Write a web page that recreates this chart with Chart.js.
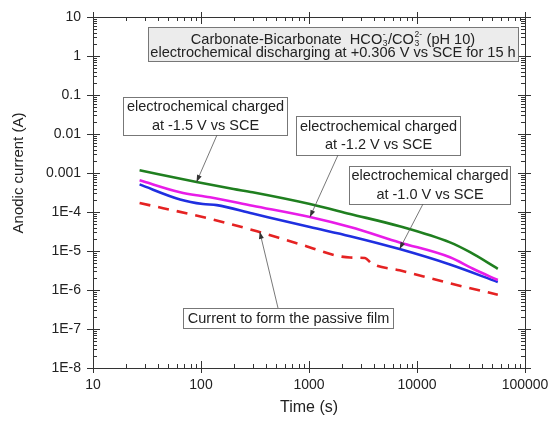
<!DOCTYPE html>
<html>
<head>
<meta charset="utf-8">
<script src="https://cdn.jsdelivr.net/npm/chart.js@4.4.0/dist/chart.umd.min.js"></script>
<style>
  html, body { margin: 0; padding: 0; background: #fff; }
</style>
</head>
<body>
<canvas id="chart" width="550" height="421"></canvas>
<script>
// Time (s) and anodic current (A)
const timeGreen = [27, 91, 200, 300, 1020, 2400, 6900, 20200, 31000, 56000];
const currGreen = [1.17e-3, 5.9e-4, 3.9e-4, 3.2e-4, 1.6e-4, 8.9e-5, 4.3e-5, 1.66e-5, 9.3e-6, 3.5e-6];

const timeMagenta = [27, 64, 98, 121, 300, 1020, 2400, 6900, 20200, 33000, 56000];
const currMagenta = [6.5e-4, 3.2e-4, 2.6e-4, 2.4e-4, 1.45e-4, 7.4e-5, 4.1e-5, 1.66e-5, 6.9e-6, 3.5e-6, 1.8e-6];

const timeBlue = [27, 64, 104, 140, 300, 1020, 2400, 6900, 20200, 56000];
const currBlue = [5.1e-4, 2.1e-4, 1.6e-4, 1.5e-4, 9.1e-5, 4.1e-5, 2.4e-5, 1.12e-5, 4.5e-6, 1.6e-6];

const timeRed = [27, 121, 330, 826, 2400, 3300, 3800, 6900, 20200, 56000];
const currRed = [1.7e-4, 6.7e-5, 3.2e-5, 1.5e-5, 6.8e-6, 6.6e-6, 4.8e-6, 3.2e-6, 1.48e-6, 7.6e-7];

const xTickValues = [10, 100, 1000, 10000, 100000];
const xTickLabels = ['10', '100', '1000', '10000', '100000'];
const yTickValues = [10, 1, 0.1, 0.01, 0.001, 1e-4, 1e-5, 1e-6, 1e-7, 1e-8];
const yTickLabels = ['10', '1', '0.1', '0.01', '0.001', '1E-4', '1E-5', '1E-6', '1E-7', '1E-8'];

// callouts: box in pixels, arrow tip at a (time, current) point
const callouts = [
  { lines: ['electrochemical charged', 'at -1.5 V vs SCE'], box: [123, 97, 164, 38], from: [217, 135], tip: [91, 5.9e-4] },
  { lines: ['electrochemical charged', 'at -1.2 V vs SCE'], box: [296, 116, 164, 39], from: [338, 155], tip: [1020, 7.4e-5] },
  { lines: ['electrochemical charged', 'at -1.0 V vs SCE'], box: [349, 166, 161, 38], from: [423, 204], tip: [6900, 1.12e-5] },
  { lines: ['Current to form the passive film'], box: [183, 308, 210, 20], from: [278, 308], tip: [350, 3.1e-5] }
];

const FONT = '"Liberation Sans", Arial, sans-serif';

function toPoints(ts, vs) {
  return ts.map((t, i) => ({ x: t, y: vs[i] }));
}

function drawArrow(ctx, x1, y1, x2, y2) {
  ctx.beginPath();
  ctx.moveTo(x1, y1);
  ctx.lineTo(x2, y2);
  ctx.stroke();
  const a = Math.atan2(y2 - y1, x2 - x1);
  const len = 7, w = 2.5;
  ctx.beginPath();
  ctx.moveTo(x2, y2);
  ctx.lineTo(x2 - len * Math.cos(a) + w * Math.sin(a), y2 - len * Math.sin(a) - w * Math.cos(a));
  ctx.lineTo(x2 - len * Math.cos(a) - w * Math.sin(a), y2 - len * Math.sin(a) + w * Math.cos(a));
  ctx.closePath();
  ctx.fill();
}

const framePlugin = {
  id: 'frame',
  afterDraw(chart) {
    const ctx = chart.ctx;
    const { left, right, top, bottom } = chart.chartArea;
    const xs = chart.scales.x, ys = chart.scales.y;
    ctx.save();
    ctx.strokeStyle = '#333';
    ctx.lineWidth = 1;
    ctx.strokeRect(left + 0.5, top + 0.5, right - left, bottom - top);

    // ticks on all four sides (major crossing, minor inside)
    ctx.beginPath();
    for (let e = 1; e <= 5; e++) {
      for (let m = 1; m <= 9; m++) {
        const v = m * Math.pow(10, e);
        if (v > 100000) break;
        const px = Math.round(xs.getPixelForValue(v)) + 0.5;
        const major = m === 1;
        ctx.moveTo(px, bottom - (major ? 7 : 4));
        ctx.lineTo(px, bottom + (major ? 5 : 0));
        ctx.moveTo(px, top + (major ? 7 : 4));
        ctx.lineTo(px, top - (major ? 5 : 0));
      }
    }
    for (let e = -8; e <= 1; e++) {
      for (let m = 1; m <= 9; m++) {
        const v = m * Math.pow(10, e);
        if (v > 10) break;
        const py = Math.round(ys.getPixelForValue(v)) + 0.5;
        const major = m === 1;
        ctx.moveTo(left - (major ? 6 : 0), py);
        ctx.lineTo(left + (major ? 7 : 4), py);
        ctx.moveTo(right + (major ? 6 : 0), py);
        ctx.lineTo(right - (major ? 7 : 4), py);
      }
    }
    ctx.stroke();

    // y axis title
    ctx.fillStyle = '#222';
    ctx.font = '15px ' + FONT;
    ctx.textAlign = 'center';
    ctx.textBaseline = 'middle';
    ctx.translate(19, 173);
    ctx.rotate(-Math.PI / 2);
    ctx.fillText('Anodic current (A)', 0, 0);
    ctx.restore();

    // header box
    ctx.save();
    ctx.fillStyle = '#ececec';
    ctx.strokeStyle = '#777';
    ctx.fillRect(148, 27, 370, 34);
    ctx.strokeRect(148.5, 27.5, 370, 34);
    ctx.fillStyle = '#222';
    ctx.textBaseline = 'middle';
    const big = '14.6px ' + FONT, small = '8.5px ' + FONT;
    const parts = [
      ['Carbonate-Bicarbonate  HCO', big],
      ['3', small, '-'],
      ['/CO', big],
      ['3', small, '2-'],
      [' (pH 10)', big]
    ];
    let total = 0;
    parts.forEach(p => {
      ctx.font = p[1];
      p.w = p[2] ? Math.max(ctx.measureText(p[0]).width, ctx.measureText(p[2]).width) + 1 : ctx.measureText(p[0]).width;
      total += p.w;
    });
    let x = 333 - total / 2;
    ctx.textAlign = 'left';
    parts.forEach(p => {
      ctx.font = p[1];
      if (p[2]) {
        ctx.fillText(p[0], x + 0.5, 44);
        ctx.fillText(p[2], x + 0.5, 35);
      } else {
        ctx.fillText(p[0], x, 39.5);
      }
      x += p.w;
    });
    ctx.font = big;
    ctx.textAlign = 'center';
    ctx.fillText('electrochemical discharging at +0.306 V vs SCE for 15 h', 333, 53);

    // callouts
    ctx.font = '14.5px ' + FONT;
    callouts.forEach(c => {
      const [bx, by, bw, bh] = c.box;
      ctx.fillStyle = '#fff';
      ctx.fillRect(bx, by, bw, bh);
      ctx.strokeStyle = '#777';
      ctx.lineWidth = 1;
      ctx.strokeRect(bx + 0.5, by + 0.5, bw, bh);
      ctx.fillStyle = '#222';
      const step = 18.5;
      const y0 = by + bh / 2 - (c.lines.length - 1) * step / 2 + 0.5;
      c.lines.forEach((l, i) => ctx.fillText(l, bx + bw / 2 + 0.5, y0 + i * step));
      ctx.strokeStyle = '#555';
      ctx.fillStyle = '#333';
      ctx.lineWidth = 0.8;
      drawArrow(ctx, c.from[0], c.from[1], xs.getPixelForValue(c.tip[0]), ys.getPixelForValue(c.tip[1]));
    });
    ctx.restore();
  }
};

new Chart(document.getElementById('chart'), {
  type: 'line',
  data: {
    datasets: [
      { data: toPoints(timeGreen, currGreen), borderColor: '#1f7f1f', borderWidth: 2.6 },
      { data: toPoints(timeMagenta, currMagenta), borderColor: '#e81ce8', borderWidth: 2.6 },
      { data: toPoints(timeBlue, currBlue), borderColor: '#1f2fe0', borderWidth: 2.6 },
      { data: toPoints(timeRed, currRed), borderColor: '#e52222', borderWidth: 2.6, borderDash: [11, 8] }
    ]
  },
  options: {
    responsive: false,
    animation: false,
    elements: { point: { radius: 0 }, line: { cubicInterpolationMode: 'monotone', fill: false } },
    layout: { padding: { top: 17, right: 25, left: 0, bottom: 0 } },
    plugins: { legend: { display: false }, tooltip: { enabled: false } },
    scales: {
      x: {
        type: 'logarithmic',
        min: 10,
        max: 100000,
        grid: { display: false, drawTicks: false },
        border: { display: false },
        afterBuildTicks: s => { s.ticks = xTickValues.map(v => ({ value: v })); },
        afterFit: s => { s.height = 53; s.paddingLeft = 0; s.paddingRight = 0; },
        ticks: {
          padding: 9,
          autoSkip: false,
          maxRotation: 0,
          color: '#222',
          font: { family: FONT, size: 14 },
          callback: (v, i) => xTickLabels[i]
        },
        title: {
          display: true,
          text: 'Time (s)',
          color: '#222',
          font: { family: FONT, size: 16 },
          padding: { top: 2, bottom: 4 }
        }
      },
      y: {
        type: 'logarithmic',
        min: 1e-8,
        max: 10,
        grid: { display: false, drawTicks: false },
        border: { display: false },
        afterBuildTicks: s => { s.ticks = yTickValues.slice().reverse().map(v => ({ value: v })); },
        afterFit: s => { s.width = 93; s.paddingTop = 0; s.paddingBottom = 0; },
        ticks: {
          padding: 12,
          autoSkip: false,
          color: '#222',
          font: { family: FONT, size: 14 },
          callback: (v, i) => yTickLabels[yTickLabels.length - 1 - i]
        }
      }
    }
  },
  plugins: [framePlugin]
});
</script>
</body>
</html>
